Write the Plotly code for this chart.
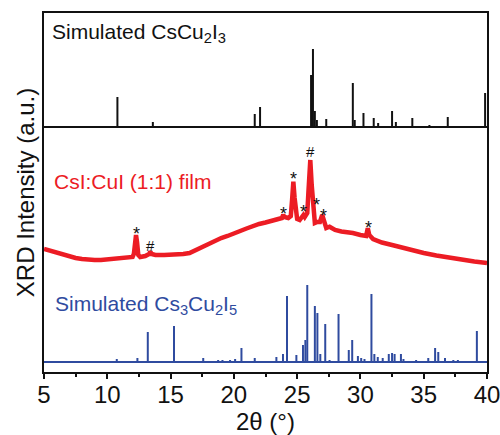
import plotly.graph_objects as go

# ---- data (2theta in degrees, intensities in arbitrary units) ----
# Simulated CsCu2I3 stick pattern (top panel)
cscu2i3_2theta = [10.8, 13.6, 16.8, 19.9, 21.65, 22.07, 26.1, 26.25, 26.4, 26.56, 27.3,
                  29.4, 29.55, 30.24, 31.05, 31.4, 32.5, 32.8, 34.1, 35.45, 36.9, 39.85]
cscu2i3_int = [30, 5, 1, 1, 13, 20, 52, 78, 16, 7, 8,
               44, 7, 14, 9, 4, 16, 5, 9, 2, 10, 34]
cscu2i3_offset = 245

# Experimental CsI:CuI (1:1) film (middle)
film_2theta = [5.0, 5.5, 6.0, 6.5, 7.0, 7.5, 8.0, 8.5, 9.0, 9.5, 10.0, 10.5, 11.0, 11.5,
               12.0, 12.1, 12.2, 12.27, 12.35, 12.45, 12.6, 13.0, 13.3, 13.4, 13.5, 13.8,
               14.5, 15.0, 15.5, 16.0, 16.5, 17.0, 17.3, 18.0, 18.5, 19.0, 19.5, 20.0,
               20.5, 21.0, 21.5, 22.0, 22.5, 23.0, 23.5, 23.8, 23.9, 24.0, 24.3, 24.5,
               24.6, 24.7, 24.8, 24.9, 25.0, 25.2, 25.4, 25.5, 25.6, 25.8, 25.9, 26.04,
               26.15, 26.3, 26.4, 26.6, 26.8, 26.98, 27.1, 27.3, 27.56, 28.0, 28.5, 29.0,
               29.4, 30.0, 30.45, 30.58, 30.7, 31.0, 31.7, 32.5, 33.1, 34.0, 34.4, 35.0,
               36.0, 37.0, 38.0, 39.0, 39.6, 40.0]
film_int = [123, 121, 119, 117, 115.5, 114, 113, 112, 112, 112, 112.5, 113, 113.5, 114,
            115, 118, 132, 137, 130, 117, 115, 116, 118, 120.3, 118, 117,
            117, 117, 117.5, 118, 119, 122, 124.5, 128, 131, 134, 136, 138,
            141, 143.5, 146, 148, 149.5, 151, 152.5, 154, 157, 155, 154, 156,
            172, 190.3, 174, 156, 153, 152, 155, 157, 155, 159, 182, 212,
            187, 157, 149, 150, 150, 157, 152, 144, 145.3, 142, 140.5, 140,
            139, 137, 136, 143.7, 137, 133, 129.5, 127, 125, 121.5, 120.3, 119,
            116.5, 115, 112.5, 110.5, 110, 109]

# Simulated Cs3Cu2I5 stick pattern (bottom)
cs3cu2i5_2theta = [9.9, 10.75, 12.38, 13.2, 15.27, 17.58, 18.76, 19.1, 19.7, 20.1, 20.6,
                   21.65, 23.36, 23.88, 24.2, 24.94, 25.46, 25.65, 25.8, 26.4, 26.6,
                   26.83, 27.22, 27.56, 28.27, 29.08, 29.35, 29.8, 30.06, 30.32, 30.87,
                   31.1, 31.37, 31.76, 32.24, 32.5, 32.7, 33.2, 33.4, 34.4, 35.36, 35.9,
                   36.15, 36.68, 37.34, 37.7, 39.2]
cs3cu2i5_int = [1, 3, 4, 30, 36, 4, 2, 2, 2, 3, 14,
                4, 5, 8, 66, 7, 17, 22, 77, 56, 49,
                8, 38, 2, 48, 12, 22, 6, 4, 3, 68,
                8, 5, 4, 8, 9, 8, 8, 3, 2, 4, 14,
                10, 4, 2, 2, 31]
cs3cu2i5_offset = 10

# peak markers on the film pattern
mark_2theta = [12.27, 13.4, 23.9, 24.72, 25.5, 26.04, 26.55, 27.05, 30.6]
mark_int = [143, 127, 163, 197.7, 165.3, 220.3, 172, 161.3, 149.3]
mark_sym = ["*", "#", "*", "*", "*", "#", "*", "*", "*"]

x_range = [5, 40]
x_ticks = [5, 10, 15, 20, 25, 30, 35, 40]

BLACK = "#111111"
RED = "#ec1c24"
BLUE = "#2f4b9f"
FONT = "Liberation Sans, Arial, sans-serif"


def sticks(xs, hs, base):
    X, Y = [x_range[0], x_range[1], None], [base, base, None]
    for x, h in zip(xs, hs):
        X += [x, x, None]
        Y += [base, base + h, None]
    return X, Y


fig = go.Figure()

bx, by = sticks(cscu2i3_2theta, cscu2i3_int, cscu2i3_offset)
fig.add_trace(go.Scatter(x=bx, y=by, mode="lines", line=dict(color=BLACK, width=2),
                         hoverinfo="skip", showlegend=False))

fig.add_trace(go.Scatter(x=film_2theta, y=film_int, mode="lines",
                         line=dict(color=RED, width=4.5), showlegend=False))

ux, uy = sticks(cs3cu2i5_2theta, cs3cu2i5_int, cs3cu2i5_offset)
fig.add_trace(go.Scatter(x=ux, y=uy, mode="lines", line=dict(color=BLUE, width=2),
                         hoverinfo="skip", showlegend=False))

for x, y, s in zip(mark_2theta, mark_int, mark_sym):
    fig.add_annotation(x=x, y=y, text=s, showarrow=False, xanchor="center", yanchor="middle",
                       yshift=-5 if s == "*" else 0,
                       font=dict(family=FONT, size=18 if s == "*" else 15, color=BLACK))

fig.add_annotation(x=5.47, y=339, text="Simulated CsCu<sub>2</sub>I<sub>3</sub>", showarrow=False,
                   xanchor="left", yanchor="middle", font=dict(family=FONT, size=21, color=BLACK))
fig.add_annotation(x=5.6, y=190.3, text="CsI:CuI (1:1) film", showarrow=False,
                   xanchor="left", yanchor="middle", font=dict(family=FONT, size=21, color=RED))
fig.add_annotation(x=5.73, y=67, text="Simulated Cs<sub>3</sub>Cu<sub>2</sub>I<sub>5</sub>", showarrow=False,
                   xanchor="left", yanchor="middle", font=dict(family=FONT, size=21, color=BLUE))

# x-axis title placed below the tick labels
fig.add_annotation(x=0.5, y=-0.137, xref="paper", yref="paper", text="2θ (°)", showarrow=False,
                   xanchor="center", yanchor="middle", font=dict(family=FONT, size=24, color=BLACK))

fig.update_layout(
    width=500, height=435,
    margin=dict(l=44, r=13, t=13, b=63),
    paper_bgcolor="white", plot_bgcolor="white",
    font=dict(family=FONT, color=BLACK),
    xaxis=dict(range=x_range, tickvals=x_ticks, ticks="outside", ticklen=5, tickwidth=2,
               tickcolor=BLACK, showline=True, linewidth=2, linecolor=BLACK, mirror=True,
               showgrid=False, zeroline=False, tickfont=dict(size=24), ticklabelstandoff=-5,
               automargin=False, ticklabeloverflow="allow",
               minor=dict(ticks="outside", ticklen=3, tickwidth=1.5, tickcolor=BLACK, dtick=2.5)),
    yaxis=dict(range=[0, 359], showticklabels=False, ticks="", showline=True, linewidth=2,
               linecolor=BLACK, mirror=True, showgrid=False, zeroline=False, automargin=False,
               title=dict(text="XRD Intensity (a.u.)", font=dict(size=24), standoff=1)),
)

fig.write_html("out.html")
